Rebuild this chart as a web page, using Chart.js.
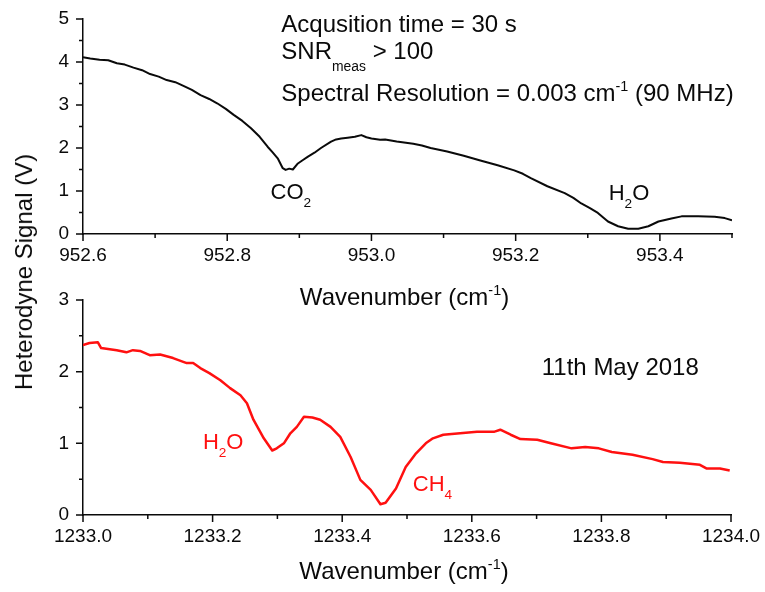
<!DOCTYPE html>
<html>
<head>
<meta charset="utf-8">
<script src="https://cdn.jsdelivr.net/npm/chart.js@4.4.1/dist/chart.umd.min.js"></script>
<style>
body { margin: 0; background: #fff; }
#wrap { position: relative; width: 765px; height: 592px; overflow: hidden; }
#c1 { position: absolute; left: 0; top: 0; }
#c2 { position: absolute; left: 0; top: 280px; }
#ytitle {
    position: absolute; left: 24px; top: 272px;
    transform: translate(-50%, -50%) rotate(-90deg);
    font: 24px "Liberation Sans", Arial, sans-serif; color: #0a0a0a; white-space: nowrap;
}
</style>
</head>
<body>
<div id="wrap">
<canvas id="c1" width="765" height="320"></canvas>
<canvas id="c2" width="765" height="312"></canvas>
<div id="ytitle">Heterodyne Signal (V)</div>
</div>
<script>
// top panel: CO2 / H2O near 953 cm-1
var topX = [952.600, 952.610, 952.623, 952.635, 952.647, 952.658, 952.670, 952.682, 952.693, 952.705,
    952.716, 952.728, 952.740, 952.751, 952.763, 952.775, 952.786, 952.798, 952.809, 952.821,
    952.833, 952.845, 952.856, 952.863, 952.870, 952.877, 952.881, 952.886, 952.891, 952.898,
    952.905, 952.912, 952.921, 952.930, 952.944, 952.951, 952.958, 952.967, 952.977, 952.986,
    952.993, 953.000, 953.012, 953.019, 953.035, 953.058, 953.070, 953.082, 953.105, 953.128,
    953.151, 953.175, 953.198, 953.210, 953.221, 953.244, 953.268, 953.280, 953.291, 953.303,
    953.314, 953.328, 953.342, 953.356, 953.370, 953.384, 953.398, 953.416, 953.430, 953.453,
    953.476, 953.490, 953.500];
var topY = [4.11, 4.08, 4.05, 4.04, 3.97, 3.94, 3.87, 3.81, 3.72, 3.66,
    3.58, 3.53, 3.44, 3.35, 3.23, 3.14, 3.04, 2.91, 2.77, 2.63,
    2.46, 2.26, 2.03, 1.90, 1.76, 1.53, 1.49, 1.52, 1.50, 1.64,
    1.72, 1.80, 1.89, 2.00, 2.15, 2.20, 2.22, 2.24, 2.26, 2.30,
    2.25, 2.22, 2.19, 2.20, 2.15, 2.10, 2.06, 2.00, 1.92, 1.82,
    1.71, 1.60, 1.48, 1.40, 1.30, 1.11, 0.95, 0.84, 0.71, 0.60,
    0.49, 0.29, 0.18, 0.12, 0.12, 0.18, 0.29, 0.36, 0.41, 0.41,
    0.40, 0.37, 0.32];

// bottom panel: H2O / CH4 near 1233 cm-1
var botX = [1233.000, 1233.010, 1233.023, 1233.028, 1233.052, 1233.067, 1233.077, 1233.088, 1233.103, 1233.119,
    1233.139, 1233.160, 1233.170, 1233.181, 1233.195, 1233.212, 1233.227, 1233.243, 1233.253, 1233.263,
    1233.279, 1233.292, 1233.299, 1233.310, 1233.320, 1233.330, 1233.341, 1233.354, 1233.366, 1233.382,
    1233.397, 1233.413, 1233.428, 1233.444, 1233.459, 1233.467, 1233.483, 1233.498, 1233.514, 1233.529,
    1233.540, 1233.556, 1233.582, 1233.608, 1233.634, 1233.644, 1233.660, 1233.675, 1233.701, 1233.722,
    1233.754, 1233.775, 1233.796, 1233.816, 1233.848, 1233.879, 1233.895, 1233.921, 1233.952, 1233.962,
    1233.983, 1233.998];
var botY = [2.37, 2.40, 2.41, 2.33, 2.30, 2.27, 2.30, 2.29, 2.23, 2.24,
    2.19, 2.12, 2.12, 2.05, 1.98, 1.88, 1.77, 1.67, 1.56, 1.33,
    1.07, 0.90, 0.93, 1.00, 1.14, 1.23, 1.37, 1.36, 1.33, 1.23,
    1.09, 0.81, 0.49, 0.35, 0.15, 0.17, 0.37, 0.67, 0.86, 1.00,
    1.07, 1.12, 1.14, 1.16, 1.16, 1.19, 1.12, 1.06, 1.05, 1.00,
    0.93, 0.95, 0.93, 0.88, 0.84, 0.78, 0.74, 0.73, 0.70, 0.65,
    0.65, 0.62];

var FONT = '"Liberation Sans", Arial, sans-serif';
var INK = '#0a0a0a';

function N(t) { return { t: t, s: 1, dy: 0 }; }
function SUB(t) { return { t: t, s: 0.62, dy: 0.36 }; }
function SUP(t) { return { t: t, s: 0.6, dy: -0.42 }; }

function richWidth(ctx, parts, size) {
    var w = 0;
    parts.forEach(function(p) {
        ctx.font = (size * p.s) + 'px ' + FONT;
        w += ctx.measureText(p.t).width;
    });
    return w;
}

function drawRich(ctx, x, y, parts, size) {
    var cx = x;
    parts.forEach(function(p) {
        ctx.font = (size * p.s) + 'px ' + FONT;
        ctx.fillText(p.t, cx, y + p.dy * size);
        cx += ctx.measureText(p.t).width;
    });
}

function toPoints(xs, ys) {
    var pts = [];
    for (var i = 0; i < xs.length; i++) {
        pts.push({ x: xs[i], y: ys[i] });
    }
    return pts;
}

// ticks (major + minor), notes and x title
var extrasPlugin = {
    id: 'extras',
    afterDraw: function(chart, args, opts) {
        var ctx = chart.ctx;
        var area = chart.chartArea;
        var xs = chart.scales.x, ys = chart.scales.y;
        ctx.save();
        ctx.strokeStyle = INK;
        ctx.lineWidth = 1.5;
        ctx.beginPath();
        xs.ticks.forEach(function(t) {
            var major = Math.round(t.value * 10) % 2 === 0;
            var px = xs.getPixelForValue(t.value);
            ctx.moveTo(px, area.bottom);
            ctx.lineTo(px, area.bottom + (major ? 7 : 4));
        });
        ys.ticks.forEach(function(t) {
            var major = Math.round(t.value * 2) % 2 === 0;
            var py = ys.getPixelForValue(t.value);
            ctx.moveTo(area.left, py);
            ctx.lineTo(area.left - (major ? 7 : 4), py);
        });
        ctx.stroke();

        ctx.textBaseline = 'alphabetic';
        ctx.textAlign = 'left';
        (opts.notes || []).forEach(function(n) {
            ctx.fillStyle = n.color;
            drawRich(ctx, xs.getPixelForValue(n.x), ys.getPixelForValue(n.y), n.parts, n.size);
        });

        var title = [N('Wavenumber (cm'), SUP('-1'), N(')')];
        var w = richWidth(ctx, title, 24);
        ctx.fillStyle = INK;
        drawRich(ctx, (area.left + area.right) / 2 - w / 2 - 3, area.bottom + opts.titleGap, title, 24);
        ctx.restore();
    }
};

function makeOptions(xmin, xmax, ymax, axisH, padTop, padRight, notes, titleGap) {
    return {
        responsive: false,
        animation: false,
        layout: { padding: { top: padTop, right: padRight, left: 0, bottom: 0 } },
        plugins: {
            legend: { display: false },
            tooltip: { enabled: false },
            extras: { notes: notes, titleGap: titleGap }
        },
        scales: {
            x: {
                type: 'linear',
                min: xmin,
                max: xmax,
                grid: { display: false, drawTicks: true, tickLength: 7 },
                border: { display: true, color: INK, width: 1.5 },
                ticks: {
                    stepSize: 0.1,
                    autoSkip: false,
                    maxRotation: 0,
                    padding: 3,
                    color: INK,
                    font: { family: FONT, size: 19 },
                    callback: function(v) {
                        return Math.round(v * 10) % 2 === 0 ? v.toFixed(1) : '';
                    }
                },
                afterFit: function(s) { s.height = axisH; }
            },
            y: {
                min: 0,
                max: ymax,
                grid: { display: false, drawTicks: true, tickLength: 7 },
                border: { display: true, color: INK, width: 1.5 },
                ticks: {
                    stepSize: 0.5,
                    autoSkip: false,
                    padding: 7,
                    color: INK,
                    font: { family: FONT, size: 19 },
                    callback: function(v) {
                        return Math.round(v * 2) % 2 === 0 ? String(Math.round(v)) : '';
                    }
                },
                afterFit: function(s) { s.width = 83; }
            }
        }
    };
}

var topNotes = [
    { x: 952.875, y: 4.70, size: 24, color: INK, parts: [N('Acqusition time = 30 s')] },
    { x: 952.875, y: 4.07, size: 24, color: INK, parts: [N('SNR'), { t: 'meas', s: 0.58, dy: 0.5 }, N(' > 100')] },
    { x: 952.875, y: 3.09, size: 24, color: INK, parts: [N('Spectral Resolution = 0.003 cm'), SUP('-1'), N(' (90 MHz)')] },
    { x: 952.860, y: 0.81, size: 22, color: INK, parts: [N('CO'), SUB('2')] },
    { x: 953.329, y: 0.79, size: 22, color: INK, parts: [N('H'), SUB('2'), N('O')] }
];

var botNotes = [
    { x: 1233.708, y: 1.95, size: 24, color: INK, parts: [N('11th May 2018')] },
    { x: 1233.185, y: 0.92, size: 22, color: '#ff1010', parts: [N('H'), SUB('2'), N('O')] },
    { x: 1233.509, y: 0.335, size: 22, color: '#ff1010', parts: [N('CH'), SUB('4')] }
];

var chartTop = new Chart(document.getElementById('c1').getContext('2d'), {
    type: 'line',
    data: {
        datasets: [{
            data: toPoints(topX, topY),
            borderColor: INK,
            borderWidth: 2,
            pointRadius: 0,
            tension: 0,
            fill: false,
            borderJoinStyle: 'round'
        }]
    },
    options: makeOptions(952.6, 953.5, 5, 86, 19, 33, topNotes, 71),
    plugins: [extrasPlugin]
});

var chartBot = new Chart(document.getElementById('c2').getContext('2d'), {
    type: 'line',
    data: {
        datasets: [{
            data: toPoints(botX, botY),
            borderColor: '#ff1010',
            borderWidth: 2.5,
            pointRadius: 0,
            tension: 0,
            fill: false,
            borderJoinStyle: 'round'
        }]
    },
    options: makeOptions(1233.0, 1234.0, 3, 77, 20, 34, botNotes, 64),
    plugins: [extrasPlugin]
});
</script>
</body>
</html>
